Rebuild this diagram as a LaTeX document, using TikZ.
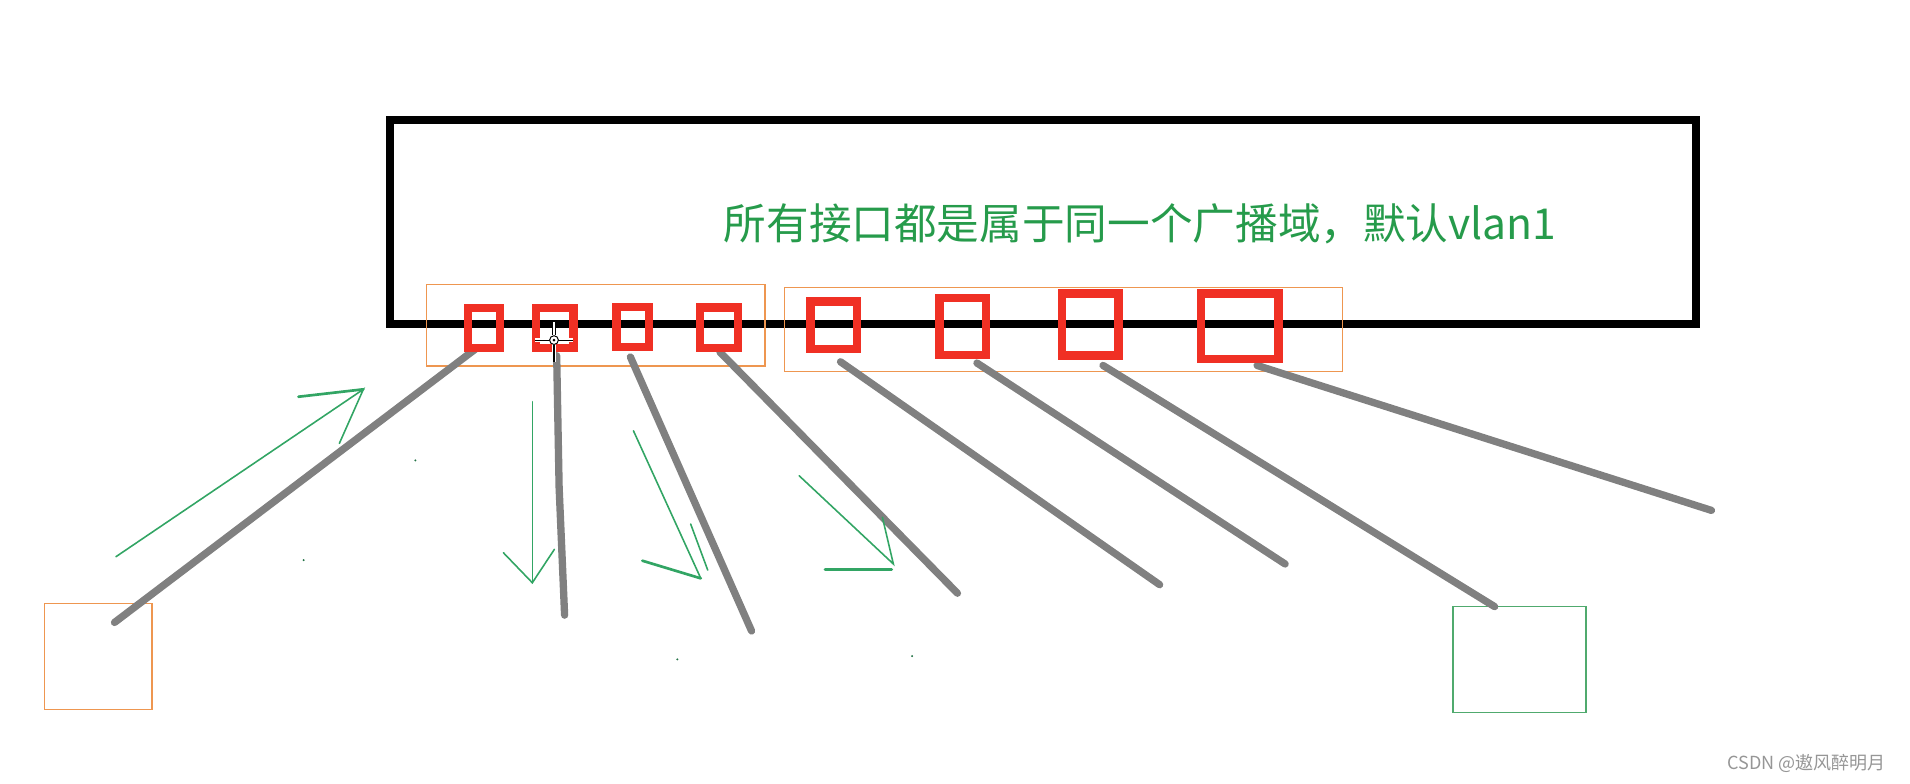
\documentclass[tikz,border=0pt]{standalone}
\usepackage{fontspec}
\usetikzlibrary{calc}
\newfontfamily\cjk{Noto Sans CJK SC}
\definecolor{portred}{RGB}{240,48,36}
\definecolor{grouporange}{RGB}{238,150,80}
\definecolor{textgreen}{RGB}{38,155,75}
\definecolor{arrowgreen}{RGB}{50,165,100}
\definecolor{boxgreen}{RGB}{80,170,110}
\definecolor{cablegray}{RGB}{128,128,128}
\definecolor{markgray}{RGB}{150,150,150}
\tikzset{
  switchbox/.style={draw=black, line width=6.5pt},
  groupbox/.style={draw=grouporange, line width=1.3pt},
  portbox/.style={draw=portred, line width=7pt, rectangle, inner sep=0pt},
  cable/.style={draw=cablegray, line width=6pt, line cap=round, line join=round},
  flow/.style={draw=arrowgreen, line width=1.3pt, line cap=round},
  flowthick/.style={draw=arrowgreen, line width=2.2pt, line cap=round},
  hostorange/.style={draw=grouporange, line width=1.4pt, rectangle, inner sep=0pt},
  hostgreen/.style={draw=boxgreen, line width=1.4pt, rectangle, inner sep=0pt},
  speck/.style={fill=arrowgreen!70!black},
}
\begin{document}
\begin{tikzpicture}[x=1pt,y=-1pt]
\useasboundingbox (0,0) rectangle (1568,643);
% switch
\draw[switchbox] (320.3,98.5) rectangle (1392,266.3);
% port groups
\draw[groupbox] (350,233.5) rectangle (628,300.5);
\draw[groupbox] (644,236) rectangle (1102,305);
% hosts
\node[hostorange, minimum width=88.5pt, minimum height=87pt] (h1) at (80.75,539) {};
\node[hostgreen, minimum width=109pt, minimum height=87pt] (h2) at (1247.5,541.5) {};
% cable ends
\coordinate (s1) at (391,286);
\coordinate (s2) at (457,292);
\coordinate (s3) at (517.5,293);
\coordinate (s4) at (591,289);
\coordinate (s5) at (690,297);
\coordinate (s6) at (802,298);
\coordinate (s7) at (905.5,300);
\coordinate (s8) at (1032,300);
\coordinate (e1) at (94,511);
\coordinate (m2) at (459,400);
\coordinate (e2) at (463.5,505);
\coordinate (e3) at (617,518);
\coordinate (e4) at (786,487);
\coordinate (e5) at (952,480);
\coordinate (e6) at (1055,463);
\coordinate (e7) at (1227,498);
\coordinate (e8) at (1405,419);
% cables
\draw[cable] (s1) -- (e1);
\draw[cable] (s2) -- (m2) -- (e2);
\draw[cable] (s3) -- (e3);
\draw[cable] (s4) -- (e4);
\draw[cable] (s5) -- (e5);
\draw[cable] (s6) -- (e6);
\draw[cable] (s7) -- (e7);
\draw[cable] (s8) -- (e8);
% ports
\node[portbox, minimum width=26.3pt, minimum height=32.8pt] (p1) at (397.2,269.4) {};
\node[portbox, minimum width=30.8pt, minimum height=32.8pt] (p2) at (455.4,269.4) {};
\node[portbox, minimum width=26.7pt, minimum height=32.7pt] (p3) at (519.5,268.4) {};
\node[portbox, minimum width=31.2pt, minimum height=33.3pt] (p4) at (590.3,269.2) {};
\node[portbox, minimum width=38pt, minimum height=39pt] (p5) at (684.5,267) {};
\node[portbox, minimum width=38.5pt, minimum height=47pt] (p6) at (790.3,268) {};
\node[portbox, minimum width=46pt, minimum height=51pt] (p7) at (895,266.5) {};
\node[portbox, minimum width=63.5pt, minimum height=53.8pt] (p8) at (1017.8,268) {};
% cursor
\coordinate (cur) at (454.8,279.2);
\draw[white, line width=3pt] ($(cur)+(-15.7,0)$) -- ($(cur)+(15.7,0)$);
\draw[white, line width=3pt] ($(cur)+(0,-15)$) -- ($(cur)+(0,18)$);
\draw[black, line width=0.9pt] ($(cur)+(-15.7,0)$) -- ($(cur)+(15.7,0)$);
\draw[black, line width=0.9pt] ($(cur)+(-1.5,-15)$) -- ($(cur)+(-1.5,-4)$);
\draw[black, line width=0.9pt] ($(cur)+(1.5,-15)$) -- ($(cur)+(1.5,-4)$);
\draw[black, line width=0.9pt] ($(cur)+(0,4)$) -- ($(cur)+(0,18)$);
\draw[black, fill=white, line width=0.8pt] (cur) circle (3.6pt);
\fill[black] (cur) circle (1.2pt);
% green flow arrows
\coordinate (a1s) at (95.2,457);
\coordinate (a1t) at (298.3,319.6);
\draw[flow] (a1s) -- (a1t) -- (278.6,364);
\draw[flowthick] (a1t) -- (245,325.7);
\coordinate (a2s) at (437,329.8);
\coordinate (a2t) at (437,478.4);
\draw[flow] (a2s) -- (a2t);
\draw[flow] (413.2,453.7) -- (a2t) -- (455.1,451);
\coordinate (a3s) at (520,353.6);
\coordinate (a3t) at (575.3,474.8);
\draw[flow] (a3s) -- (a3t);
\draw[flowthick] (527.3,460.3) -- (a3t);
\draw[flow] (567,430.2) -- (581,468);
\coordinate (a4s) at (656,390.5);
\coordinate (a4t) at (733.4,463);
\draw[flow] (a4s) -- (a4t) -- (724.4,424.7);
\draw[flowthick] (677.3,467.4) -- (732,467.4);
% specks
\fill[speck] (341,378) circle (0.9pt);
\fill[speck] (249.3,459.8) circle (0.9pt);
\fill[speck] (556,541.3) circle (0.9pt);
\fill[speck] (748.8,538.6) circle (0.9pt);
% label
\node[anchor=base west, inner sep=0pt, text=textgreen, font=\cjk\fontsize{35}{35}\selectfont] (label) at (594,196.5) {所有接口都是属于同一个广播域，默认vlan1};
% watermark
\node[anchor=west, inner sep=0pt, text=markgray, font=\cjk\fontsize{14.8}{14.8}\selectfont] (mark) at (1418,627) {CSDN @遨风醉明月};
\end{tikzpicture}
\end{document}
